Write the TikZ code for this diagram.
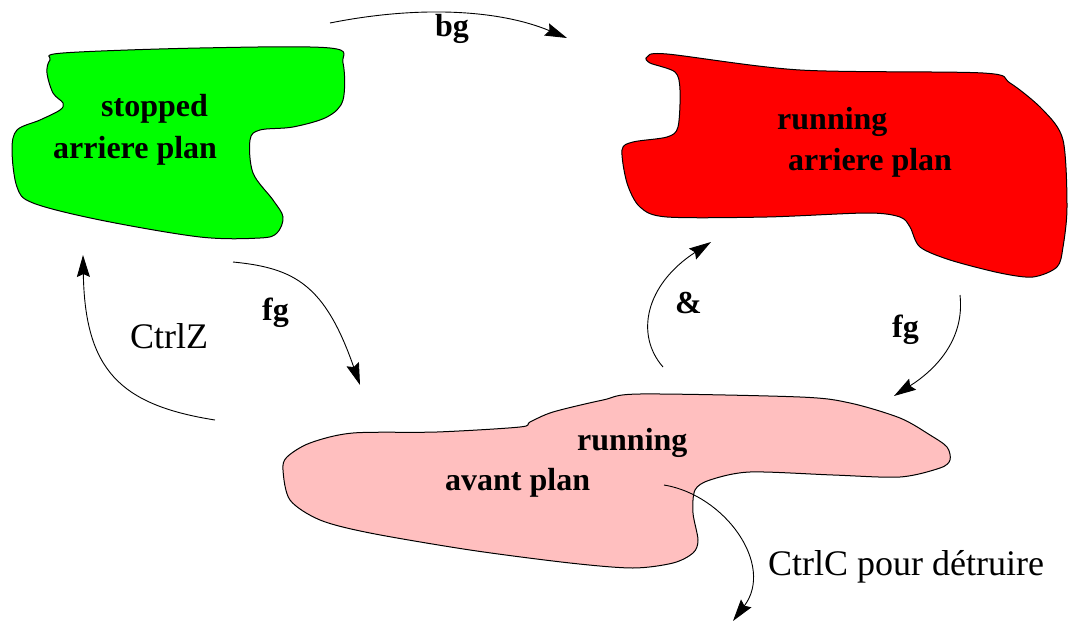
\documentclass[tikz,border=0pt]{standalone}
\usepackage{fontspec}
\setmainfont{Liberation Serif}
\newfontfamily\tnr{Liberation Serif}
\usetikzlibrary{arrows.meta}
\definecolor{blobgreen}{RGB}{0,255,0}
\definecolor{blobred}{RGB}{255,0,0}
\definecolor{blobpink}{RGB}{255,191,191}
\begin{document}
\begin{tikzpicture}[x=1pt,y=-1pt,
  blob/.style={draw=black,line width=1pt},
  arr/.style={line width=0.9pt,-{Stealth[length=22pt,width=13pt,inset=3pt]}},
  bl/.style={font=\tnr\fontsize{32}{38}\selectfont\bfseries,inner sep=0pt,anchor=base west},
  rl/.style={font=\tnr\fontsize{36}{42}\selectfont,inner sep=0pt,anchor=base west}]
\useasboundingbox (0,0) rectangle (1068,623);
% green blob
\filldraw[blob,fill=blobgreen] plot[smooth cycle,tension=0.55] coordinates {
 (63,53) (200,48) (330,48) (343,63) (343,100) (327,117) (293,127) (260,130)
 (250,140) (253,173) (273,200) (283,217) (277,233) (260,238) (200,237)
 (100,220) (33,203) (17,187) (12,150) (17,130) (40,120) (60,110) (63,103)
 (53,93) (47,73) (50,60)};
% red blob
\filldraw[blob,fill=blobred] plot[smooth cycle,tension=0.5] coordinates {
 (667,54) (800,70) (983,73) (1010,83) (1043,110) (1063,140) (1067,207)
 (1063,247) (1057,267) (1033,277) (1000,273) (950,260) (920,247) (910,227)
 (900,217) (867,213) (767,217) (667,217) (640,207) (627,183) (622,150)
 (633,142) (667,137) (678,127) (680,90) (675,72) (650,63) (647,57)};
% pink blob
\filldraw[blob,fill=blobpink] plot[smooth cycle,tension=0.5] coordinates {
 (287,457) (310,443) (353,433) (437,432) (520,427) (530,422) (553,412)
 (603,400) (640,394) (800,397) (850,403) (900,418) (930,435) (947,447)
 (950,460) (940,468) (900,477) (833,475) (750,472) (710,480) (695,490)
 (693,513) (698,540) (693,553) (673,563) (633,568) (570,563) (470,550)
 (370,533) (320,520) (290,500) (283,470)};
% texts
\node[bl] (gs) at (101,117) {stopped};
\node[bl] (ga) at (53,158) {arriere plan};
\node[bl] (rr) at (777,130) {running};
\node[bl] (ra) at (788,170) {arriere plan};
\node[bl] (pr) at (577,450) {running};
\node[bl] (pa) at (445,490) {avant plan};
\node[bl] (lbg) at (435,37) {bg};
\node[bl] (lfg1) at (262,320) {fg};
\node[rl] (lcz) at (130,348) {CtrlZ};
\node[bl] (lamp) at (675,313) {\&};
\node[bl] (lfg2) at (892,337) {fg};
\node[rl] (lcc) at (768,575) {CtrlC pour détruire};
% connector end points
\coordinate (bgS) at (330,23);   \coordinate (bgE) at (567,38);
\coordinate (czS) at (215,420);  \coordinate (czE) at (83,255);
\coordinate (fgaS) at (233,262); \coordinate (fgaE) at (360,385);
\coordinate (amS) at (663,367);  \coordinate (amE) at (711,242);
\coordinate (fgbS) at (960,295); \coordinate (fgbE) at (894,396);
\coordinate (ccS) at (664,485);  \coordinate (ccE) at (733,621);
\draw[arr] (bgS) .. controls (420,5) and (500,10) .. (bgE);
\draw[arr] (czS) .. controls (120,405) and (85,370) .. (czE);
\draw[arr] (fgaS) .. controls (295,268) and (325,285) .. (fgaE);
\draw[arr] (amS) .. controls (635,335) and (645,285) .. (amE);
\draw[arr] (fgbS) .. controls (965,340) and (935,370) .. (fgbE);
\draw[arr] (ccS) .. controls (725,495) and (775,565) .. (ccE);
\end{tikzpicture}
\end{document}
